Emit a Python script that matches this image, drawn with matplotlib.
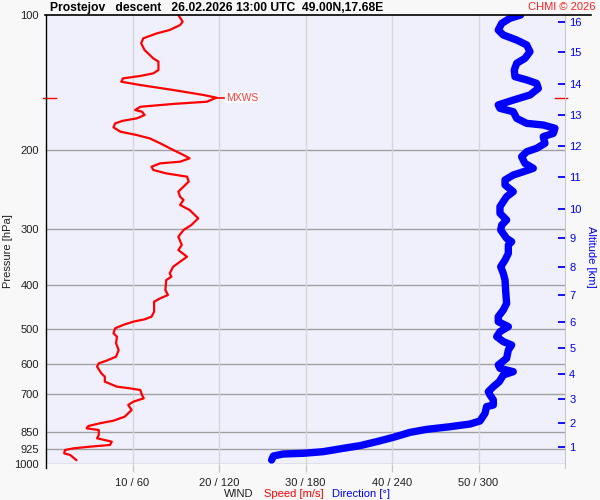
import matplotlib
matplotlib.use("Agg")
import matplotlib.pyplot as plt
import matplotlib.transforms as mtransforms
from matplotlib.lines import Line2D
import numpy as np

plt.rcParams['font.family'] = ['Liberation Sans', 'DejaVu Sans']

# ---------------- data ----------------
speed_p = [100, 103.5, 105.3, 108.0, 109.9, 112.7, 115.6, 119.7, 124.9, 127.0, 132.6, 134.9,
           136.7, 138.4, 140.8, 143.2, 146.9, 150.7, 152.8, 156.0, 157.8, 160.1, 162.8, 164.2,
           167.0, 169.9, 172.0, 174.3, 177.9, 181.9, 185.1, 188.3, 193.1, 199.8, 205.0, 208.6,
           212.2, 214.0, 217.7, 221.4, 225.3, 229.1, 235.0, 241.2, 247.4, 253.9, 258.2, 264.9,
           271.8, 283.7, 293.6, 301.2, 311.7, 325.3, 333.8, 345.4, 354.4, 363.6, 376.2, 382.7,
           389.3, 409.8, 420.4, 427.6, 435.0, 457.8, 469.8, 476.2, 481.9, 490.2, 498.6, 511.6,
           520.4, 538.5, 557.3, 576.7, 588.6, 596.8, 607.1, 628.1, 639.0, 655.6, 672.6, 678.4,
           684.2, 702.0, 714.1, 726.4, 738.9, 758.1, 784.5, 800.8, 811.8, 823.0, 832.9, 840.0,
           861.7, 876.5, 891.7, 907.1, 914.9, 922.7, 930.6, 946.6, 955.0, 979.7]
speed_v = [15.3, 15.8, 15.5, 14.3, 12.8, 11.25, 11.0, 11.4, 12.4, 13.0, 13.0, 12.4,
           10.9, 8.9, 8.7, 10.9, 14.7, 18.2, 19.7, 18.6, 14.7, 10.9, 10.3, 11.1,
           11.4, 10.5, 8.9, 8.0, 7.8, 8.6, 10.5, 12.0, 13.2, 14.7, 15.9, 16.6,
           15.5, 13.2, 12.2, 12.4, 13.9, 16.3, 16.5, 15.9, 15.3, 15.5, 15.9, 15.5,
           16.6, 17.6, 16.8, 15.9, 15.3, 15.7, 15.3, 16.3, 15.5, 14.7, 14.3, 14.5,
           13.9, 13.8, 14.1, 13.2, 12.5, 12.5, 12.2, 11.4, 10.1, 8.9, 8.0, 7.8,
           8.2, 8.1, 8.4, 8.1, 7.0, 6.1, 5.9, 6.4, 6.8, 6.8, 8.2, 9.7,
           10.9, 11.1, 11.3, 10.1, 9.5, 9.9, 9.1, 7.8, 6.2, 4.9, 4.7, 6.1,
           6.1, 5.9, 7.6, 7.4, 5.1, 3.2, 2.2, 2.1, 2.8, 3.5]

dir_p = [100, 101.7, 104.4, 108.0, 110.8, 113.7, 116.6, 120.7, 124.9, 128.1, 132.6, 137.2,
         139.5, 142.0, 145.7, 150.7, 154.7, 158.6, 161.4, 164.2, 169.9, 174.3, 175.8, 178.8,
         183.5, 186.6, 193.1, 198.1, 201.6, 206.8, 214.0, 219.5, 223.4, 227.2, 233.0, 239.1,
         247.4, 253.9, 260.4, 267.2, 276.5, 286.1, 293.6, 301.2, 314.4, 319.8, 325.3, 339.6,
         351.4, 363.6, 376.2, 389.3, 409.8, 438.7, 454.0, 469.8, 481.9, 494.4, 507.3, 520.4,
         533.9, 543.3, 557.3, 581.7, 601.9, 612.3, 622.8, 633.6, 655.6, 672.6, 690.1, 702.0,
         720.2, 738.9, 745.2, 771.3, 802.1, 814.6, 826.0, 837.3, 850.3, 872.2, 891.7, 910.2,
         922.7, 938.6, 946.6, 950.0, 959.8, 979.7]
dir_v = [329.2, 321.8, 316.1, 313.7, 317.2, 326.5, 333.4, 335.7, 332.2, 326.5, 324.8, 325.3,
         333.4, 340.3, 341.5, 335.7, 324.1, 313.7, 314.9, 324.1, 326.5, 333.4, 344.9, 353.0,
         351.9, 344.9, 346.1, 340.3, 333.4, 329.9, 332.2, 338.0, 331.1, 324.1, 318.4, 318.4,
         324.1, 319.5, 317.2, 314.9, 314.9, 319.5, 316.1, 315.4, 319.5, 323.0, 320.7, 320.7,
         318.4, 315.4, 317.2, 318.4, 318.8, 319.5, 317.2, 313.7, 313.7, 320.7, 314.9, 312.6,
         317.2, 323.0, 320.7, 319.5, 313.7, 314.9, 324.1, 317.2, 314.4, 310.3, 306.8, 308.0,
         310.3, 310.3, 305.6, 304.5, 301.0, 294.1, 280.2, 264.0, 252.5, 240.9, 229.4, 217.8,
         206.2, 192.4, 178.5, 164.6, 157.7, 156.5]

p_ticks = [100, 200, 300, 400, 500, 600, 700, 850, 925, 1000]
x_ticks = [10, 20, 30, 40, 50]
x_labels = ["10 / 60", "20 / 120", "30 / 180", "40 / 240", "50 / 300"]
alt_km = [1, 2, 3, 4, 5, 6, 7, 8, 9, 10, 11, 12, 13, 14, 15, 16]
alt_p = [918.1, 811.8, 715.2, 630.4, 552.5, 482.7, 420.4, 364.1, 313.9, 269.8,
         229.5, 195.6, 166.6, 142.1, 121.1, 103.7]

title = "Prostejov   descent   26.02.2026 13:00 UTC  49.00N,17.68E"

# ---------------- figure ----------------
W, H = 600, 500
fig = plt.figure(figsize=(6, 5), dpi=100, facecolor='#f8f8f8')
L, R, T, B = 46, 565, 15, 464
ax = fig.add_axes([L / W, 1 - B / H, (R - L) / W, (B - T) / H])
ax.set_facecolor('#f0f0fd')
ax.set_yscale('log')
ax.set_ylim(1000, 100)
ax.set_xlim(0, 60)

# gridlines
for p in p_ticks[1:]:
    ax.axhline(p, color='#a0a0a0', lw=1.0, zorder=1)
for xv in x_ticks:
    ax.axvline(xv, color='#d6d6d6', lw=1.0, zorder=1)

ax.set_yticks(p_ticks)
ax.set_yticklabels([str(p) for p in p_ticks], fontsize=8)
ax.yaxis.set_minor_locator(matplotlib.ticker.NullLocator())
ax.tick_params(axis='y', length=0, pad=5, colors='#202020')
ax.set_xticks(x_ticks)
ax.set_xticklabels(x_labels, fontsize=8)
ax.tick_params(axis='x', length=6, width=1, color='#c8c8c8', pad=4, labelcolor='#202020')

for s in ['top', 'bottom', 'right']:
    ax.spines[s].set_visible(False)
ax.spines['left'].set_color('black')
ax.spines['left'].set_linewidth(1.0)
ax.spines['left'].set_bounds(1020, 100)
ax.spines['right'].set_visible(True)
ax.spines['right'].set_color('#c8c8c8')
ax.spines['right'].set_bounds(1020, 100)

# curves (direction drawn on the shared 0-60 scale: 360 deg == 60)
dir_scaled = [v / 6.0 for v in dir_v]
ax.plot(dir_scaled, dir_p, color='#0000ff', lw=5.3,
        solid_capstyle='round', solid_joinstyle='round', zorder=3)
ax.plot(speed_v, speed_p, color='#ff0000', lw=1.6, zorder=4)

# max wind marker
imax = int(np.argmax(speed_v))
pmax = speed_p[imax]
vmax = speed_v[imax]
ax.plot([vmax, vmax + 0.9], [pmax, pmax], color='#ff0000', lw=1.2, zorder=4)
ax.text(vmax + 1.1, pmax, "MXWS", color='#ff3838', fontsize=7.5, va='center', ha='left',
        bbox=dict(facecolor='white', edgecolor='none', pad=0.5), zorder=5)
tr = mtransforms.blended_transform_factory(ax.transAxes, ax.transData)
ax.add_line(Line2D([-0.006, 0.019], [pmax, pmax], transform=tr, color='#ff0000', lw=1.0, clip_on=False))
ax.add_line(Line2D([0.981, 1.004], [pmax, pmax], transform=tr, color='#ff0000', lw=1.0, clip_on=False))

# altitude axis
ax2 = ax.twinx()
ax2.set_yscale('log')
ax2.set_ylim(1000, 100)
ax2.set_yticks(alt_p)
ax2.set_yticklabels([str(a) for a in alt_km], fontsize=8)
ax2.yaxis.set_minor_locator(matplotlib.ticker.NullLocator())
ax2.tick_params(axis='y', direction='in', length=5, width=1.3, color='#0000ff',
                labelcolor='#0000ff', pad=3)
for s in ax2.spines.values():
    s.set_visible(False)

# labels
fig.text(8 / W, 1 - 251 / H, "Pressure [hPa]", rotation=90, ha='center', va='center',
         fontsize=8, color='#202020')
fig.text(591 / W, 1 - 257 / H, "Altitude [km]", rotation=-90, ha='center', va='center',
         fontsize=8, color='#0000ff')
fig.text(50 / W, 1 - 11 / H, title, fontsize=8.7, fontweight='bold', ha='left', va='baseline')
fig.text(595 / W, 1 - 10 / H, "CHMI © 2026", fontsize=8.0, color='#ff2020', ha='right', va='baseline')
fig.add_artist(Line2D([45 / W, 591 / W], [1 - 15 / H, 1 - 15 / H], color='black', lw=1.2))

fig.text(253 / W, 1 - 494 / H, "WIND", fontsize=8, ha='right', va='center', color='#202020')
fig.text(264 / W, 1 - 494 / H, "Speed [m/s]", fontsize=8, ha='left', va='center', color='#ff0000')
fig.text(332 / W, 1 - 494 / H, "Direction [°]", fontsize=8, ha='left', va='center', color='#0000ff')

fig.savefig("out.png", dpi=100, facecolor=fig.get_facecolor())
